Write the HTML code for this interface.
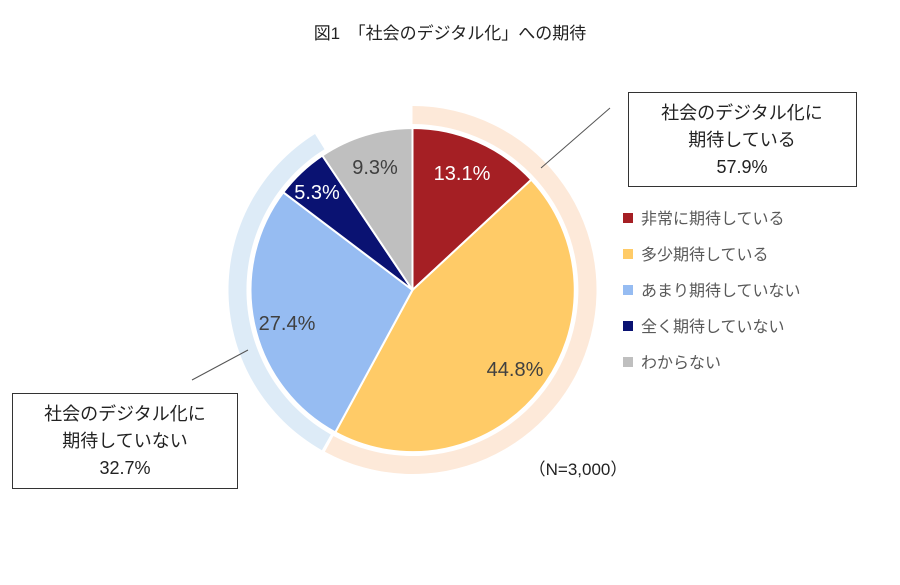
<!DOCTYPE html>
<html><head><meta charset="utf-8"><style>
body{margin:0;background:#fff;}
svg text{font-family:"Liberation Sans","Noto Sans CJK JP",sans-serif;}
</style></head><body>
<svg width="900" height="580" viewBox="0 0 900 580" xmlns="http://www.w3.org/2000/svg">
<rect width="900" height="580" fill="#fff"/>
<text x="450" y="39" font-size="17" text-anchor="middle" fill="#222">図1　「社会のデジタル化」への期待</text>
<path d="M412.5,106 A184,184 0 1 1 324.9,451.8 L333.4,436 A166,166 0 1 0 412.5,124 Z" fill="#FDE9D9"/>
<path d="M321.9,450.2 A184,184 0 0 1 315,134 L324.5,149.2 A166,166 0 0 0 330.8,434.5 Z" fill="#DDEBF7"/>
<g stroke="#fff" stroke-width="2" stroke-linejoin="round">
<path d="M412.5,290 L412.5,128 A162,162 0 0 1 531.3,179.7 Z" fill="#A51F24"/>
<path d="M412.5,290 L531.3,179.7 A162,162 0 0 1 335.3,432.4 Z" fill="#FFCB67"/>
<path d="M412.5,290 L335.3,432.4 A162,162 0 0 1 283.3,192.3 Z" fill="#96BCF2"/>
<path d="M412.5,290 L283.3,192.3 A162,162 0 0 1 322.3,155.5 Z" fill="#0A1272"/>
<path d="M412.5,290 L322.3,155.5 A162,162 0 0 1 412.5,128 Z" fill="#BFBFBF"/>
</g>
<g font-size="20">
<text x="462" y="180" text-anchor="middle" fill="#fff">13.1%</text>
<text x="515" y="376" text-anchor="middle" fill="#404040">44.8%</text>
<text x="287" y="330" text-anchor="middle" fill="#404040">27.4%</text>
<text x="317" y="199" text-anchor="middle" fill="#fff">5.3%</text>
<text x="375" y="174" text-anchor="middle" fill="#404040">9.3%</text>
</g>
<line x1="541" y1="168" x2="610" y2="108" stroke="#555" stroke-width="1"/>
<line x1="192" y1="380" x2="248" y2="350" stroke="#555" stroke-width="1"/>
<rect x="628.5" y="92.5" width="228" height="94" fill="#fff" stroke="#333" stroke-width="1"/>
<g font-size="18" fill="#222" text-anchor="middle">
<text x="742" y="119">社会のデジタル化に</text>
<text x="742" y="146">期待している</text>
<text x="742" y="173">57.9%</text>
</g>
<rect x="12.5" y="393.5" width="225" height="95" fill="#fff" stroke="#333" stroke-width="1"/>
<g font-size="18" fill="#222" text-anchor="middle">
<text x="125" y="420">社会のデジタル化に</text>
<text x="125" y="447">期待していない</text>
<text x="125" y="474">32.7%</text>
</g>
<g font-size="16" fill="#595959">
<rect x="623" y="213" width="10" height="10" fill="#A51F24"/><text x="641" y="224">非常に期待している</text>
<rect x="623" y="249" width="10" height="10" fill="#FFCB67"/><text x="641" y="260">多少期待している</text>
<rect x="623" y="285" width="10" height="10" fill="#96BCF2"/><text x="641" y="296">あまり期待していない</text>
<rect x="623" y="321" width="10" height="10" fill="#0A1272"/><text x="641" y="332">全く期待していない</text>
<rect x="623" y="357" width="10" height="10" fill="#BFBFBF"/><text x="641" y="368">わからない</text>
</g>
<text x="578" y="475" font-size="17" fill="#222" text-anchor="middle">（N=3,000）</text>
</svg>
</body></html>
